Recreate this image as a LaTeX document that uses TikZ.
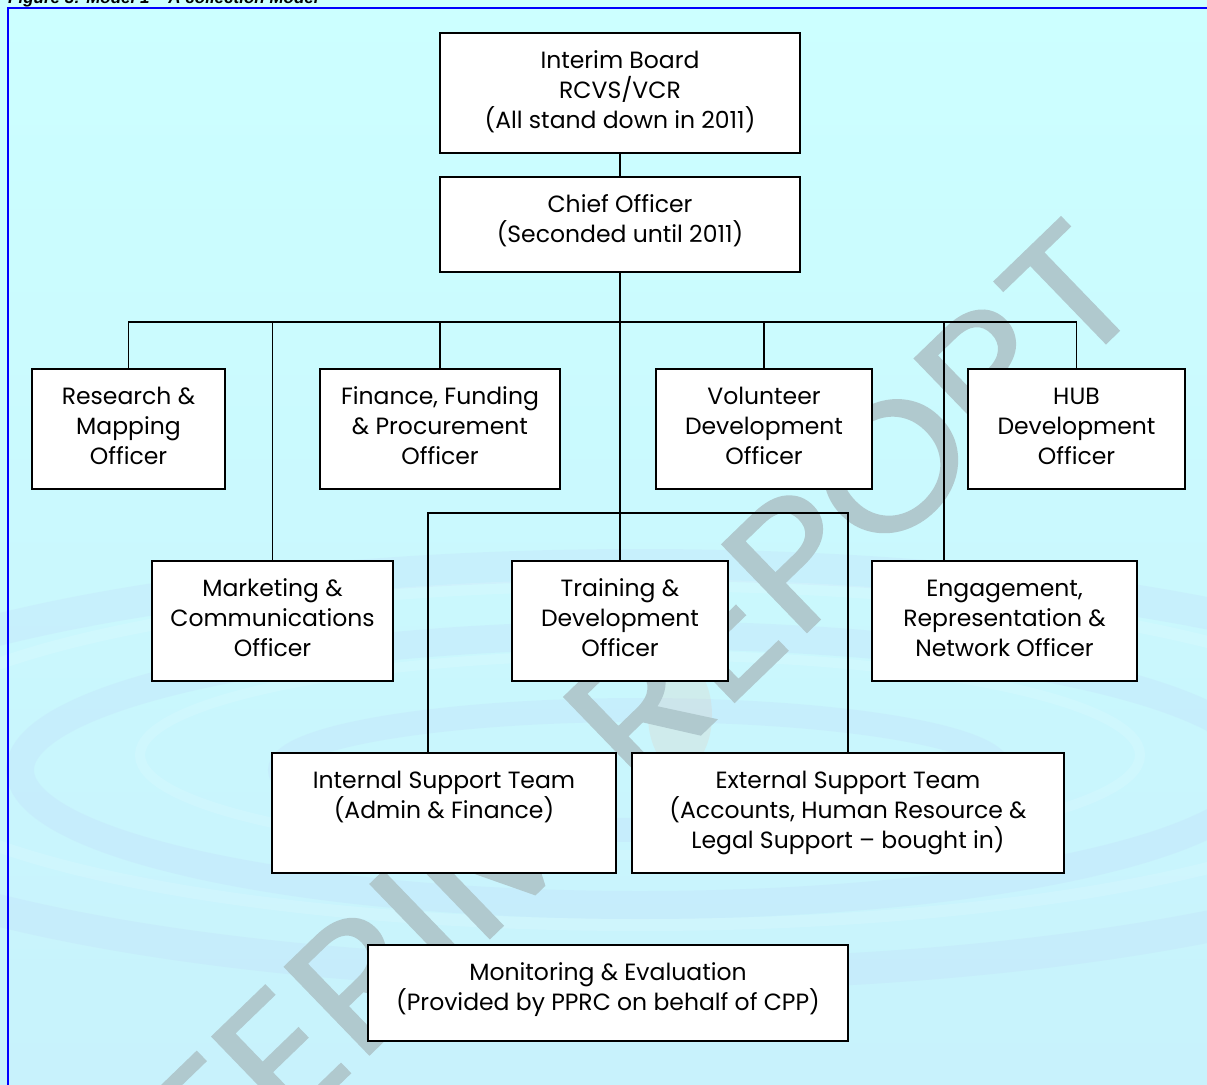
\documentclass[tikz,border=0pt]{standalone}
\usepackage{fontspec}
\setmainfont{Poppins}
\newfontfamily\capfont{Liberation Sans}
\newfontfamily\wmfont{Poppins}[FakeBold=1]
\usetikzlibrary{shadows}
\definecolor{bgtop}{RGB}{204,255,255}
\definecolor{bgbot}{RGB}{200,242,252}
\definecolor{frameblue}{RGB}{0,0,255}
\definecolor{wmark}{RGB}{176,201,206}
\definecolor{ripple}{RGB}{185,190,250}
\definecolor{dropglow}{RGB}{240,180,150}

% one organisation box: name, left, top, right, bottom, text (first line top-aligned)
\newcommand\orgunit[6]{%
  \node[orgbox, minimum width={#4-#2}, minimum height={#5-#3}] (#1) at ({(#2+#4)/2},{(#3+#5)/2}) {};
  \node[boxtext] (#1-t) at ({(#2+#4)/2},{#3+14}) {\rule{0pt}{21pt}#6};
}

\begin{document}
\begin{tikzpicture}[x=1pt,y=-1pt,
  orgbox/.style={draw=black, line width=1.8pt, fill=white, inner sep=0pt,
    drop shadow={shadow xshift=1.2pt, shadow yshift=-1.2pt, fill=black!40, opacity=1}},
  boxtext/.style={anchor=north, align=center, inner sep=0pt,
    font=\fontsize{23.5}{30}\selectfont},
  conn/.style={line width=1.6pt},
  trunk/.style={line width=2.6pt}]
\useasboundingbox (0,0) rectangle (1207,1084);

% page background
\shade[top color=bgtop, bottom color=bgbot] (0,0) rectangle (1207,1084);

% faint ripples around the drop
\begin{scope}[opacity=0.13]
  \draw[ripple, line width=24pt] (640,770) ellipse [x radius=360, y radius=60];
  \draw[ripple, line width=28pt] (640,770) ellipse [x radius=620, y radius=135];
  \draw[ripple, line width=32pt] (640,770) ellipse [x radius=880, y radius=205];
  \draw[white, line width=10pt] (640,755) ellipse [x radius=500, y radius=100];
  \draw[white, line width=12pt] (640,755) ellipse [x radius=760, y radius=170];
\end{scope}
\fill[dropglow, opacity=0.16] (680,715) ellipse [x radius=32, y radius=55];

% watermark, stretched along its baseline
\node[rotate=44, font=\wmfont\fontsize{175}{175}\selectfont, text=wmark, inner sep=0pt]
  (wm) at (571,775) {\scalebox{1.12}[1]{INTERIM REPORT}};

% frame and caption
\draw[frameblue, line width=2pt] (1230,8) -- (7.5,8) -- (7.5,1100);
\node[anchor=base west, inner sep=0pt,
  font=\capfont\bfseries\itshape\fontsize{17}{20}\selectfont] (caption) at (8,3)
  {Figure 3: Model 1 – A collection Model};

% junction points
\coordinate (bus) at (620,322);
\coordinate (bus2) at (620,513);
\coordinate (engdrop) at (944,322);
\coordinate (intdrop) at (428,513);

% boxes
\orgunit{interim}{440}{33}{800}{153}{Interim Board\\RCVS/VCR\\(All stand down in 2011)}
\orgunit{chief}{440}{177}{800}{272}{Chief Officer\\(Seconded until 2011)}
\orgunit{research}{32}{369}{225}{489}{Research \&\\Mapping\\Officer}
\orgunit{finance}{320}{369}{560}{489}{Finance, Funding\\\& Procurement\\Officer}
\orgunit{volunteer}{656}{369}{872}{489}{Volunteer\\Development\\Officer}
\orgunit{hub}{968}{369}{1185}{489}{HUB\\Development\\Officer}
\orgunit{marketing}{152}{561}{393}{681}{Marketing \&\\Communications\\Officer}
\orgunit{training}{512}{561}{728}{681}{Training \&\\Development\\Officer}
\orgunit{engage}{872}{561}{1137}{681}{Engagement,\\Representation \&\\Network Officer}
\orgunit{internal}{272}{753}{616}{873}{Internal Support Team\\(Admin \& Finance)}
\orgunit{external}{632}{753}{1064}{873}{External Support Team\\(Accounts, Human Resource \&\\Legal Support – bought in)}
\orgunit{monitor}{368}{945}{848}{1041}{Monitoring \& Evaluation\\(Provided by PPRC on behalf of CPP)}

% connectors
\draw[conn] (interim.south) -- (chief.north);
\draw[trunk] (chief.south) -- (bus);
\draw[conn] (bus) -- (training.north);
\draw[conn] (bus) -| (research.north);
\draw[conn] (bus) -| (marketing.north);
\draw[conn] (bus) -| (finance.north);
\draw[conn] (bus) -| (volunteer.north);
\draw[conn] (bus) -| (hub.north);
\draw[conn] (bus) -- (engdrop) -- (engdrop |- engage.north);
\draw[conn] (bus2) -- (intdrop) -- (intdrop |- internal.north);
\draw[conn] (bus2) -| (external.north);
\end{tikzpicture}
\end{document}
